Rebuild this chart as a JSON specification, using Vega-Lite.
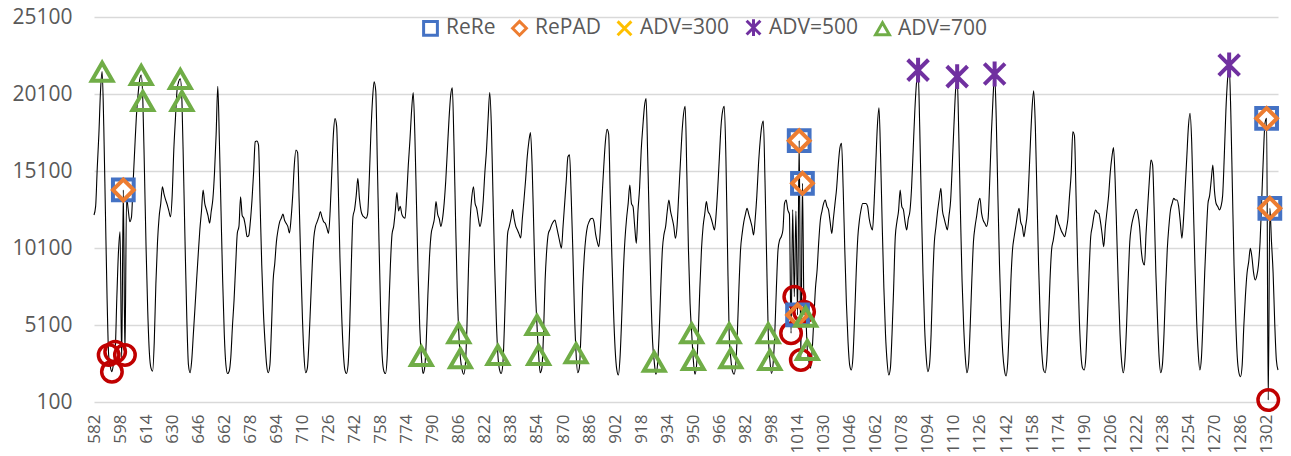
{
  "$schema": "https://vega.github.io/schema/vega-lite/v6.json",
  "autosize": "none",
  "width": 1184,
  "height": 385,
  "padding": {"left": 94, "top": 17, "right": 13, "bottom": 54},
  "background": "white",
  "config": {
    "view": {"stroke": null},
    "font": "Open Sans",
    "axis": {"labelFont": "Open Sans", "labelColor": "#595959", "labelOverlap": false},
    "axisX": {"labelOverlap": false}
  },
  "datasets": {
    "series": [
{"x":582,"y":12240},{"x":583,"y":12800},{"x":584,"y":15300},{"x":585,"y":17500},{"x":586,"y":20300},{"x":587,"y":21550},{"x":588,"y":18000},{"x":589,"y":12500},{"x":590,"y":7000},{"x":591,"y":3150},{"x":592,"y":2400},{"x":593,"y":2070},{"x":594,"y":2600},{"x":595,"y":3370},{"x":596,"y":6800},{"x":597,"y":9800},{"x":598,"y":11160},{"x":599,"y":2800},{"x":600,"y":13870},{"x":601,"y":3150},{"x":602,"y":13400},{"x":603,"y":12600},{"x":604,"y":11800},{"x":605,"y":12100},{"x":606,"y":14300},{"x":607,"y":16500},{"x":608,"y":18600},{"x":609,"y":20000},{"x":610,"y":21000},{"x":611,"y":21330},{"x":612,"y":19650},{"x":613,"y":15000},{"x":614,"y":10000},{"x":615,"y":6000},{"x":616,"y":3300},{"x":617,"y":2300},{"x":618,"y":2100},{"x":619,"y":4000},{"x":620,"y":7800},{"x":621,"y":10500},{"x":622,"y":12130},{"x":623,"y":13000},{"x":624,"y":14080},{"x":625,"y":13600},{"x":626,"y":13220},{"x":627,"y":12900},{"x":628,"y":12500},{"x":629,"y":12130},{"x":630,"y":13500},{"x":631,"y":16460},{"x":632,"y":18500},{"x":633,"y":20360},{"x":634,"y":20900},{"x":635,"y":21080},{"x":636,"y":19650},{"x":637,"y":15000},{"x":638,"y":10000},{"x":639,"y":5500},{"x":640,"y":2500},{"x":641,"y":2000},{"x":642,"y":2800},{"x":643,"y":4500},{"x":644,"y":6200},{"x":645,"y":8000},{"x":646,"y":9700},{"x":647,"y":11300},{"x":648,"y":12500},{"x":649,"y":13870},{"x":650,"y":13000},{"x":651,"y":12600},{"x":652,"y":12200},{"x":653,"y":11720},{"x":654,"y":12500},{"x":655,"y":13300},{"x":656,"y":15000},{"x":657,"y":17500},{"x":658,"y":20600},{"x":659,"y":17000},{"x":660,"y":12500},{"x":661,"y":8000},{"x":662,"y":4500},{"x":663,"y":2500},{"x":664,"y":1950},{"x":665,"y":2100},{"x":666,"y":3000},{"x":667,"y":5000},{"x":668,"y":6720},{"x":669,"y":9000},{"x":670,"y":11070},{"x":671,"y":11500},{"x":672,"y":13430},{"x":673,"y":12200},{"x":674,"y":12030},{"x":675,"y":11500},{"x":676,"y":10830},{"x":677,"y":10900},{"x":678,"y":11800},{"x":679,"y":13200},{"x":680,"y":15000},{"x":681,"y":17000},{"x":682,"y":17050},{"x":683,"y":16800},{"x":684,"y":13000},{"x":685,"y":9000},{"x":686,"y":6000},{"x":687,"y":4000},{"x":688,"y":2500},{"x":689,"y":2000},{"x":690,"y":2500},{"x":691,"y":5000},{"x":692,"y":8000},{"x":693,"y":9100},{"x":694,"y":10500},{"x":695,"y":11270},{"x":696,"y":11800},{"x":697,"y":12030},{"x":698,"y":12300},{"x":699,"y":11900},{"x":700,"y":11700},{"x":701,"y":11500},{"x":702,"y":11070},{"x":703,"y":12000},{"x":704,"y":13500},{"x":705,"y":15500},{"x":706,"y":16460},{"x":707,"y":16300},{"x":708,"y":13000},{"x":709,"y":9000},{"x":710,"y":5500},{"x":711,"y":3000},{"x":712,"y":2000},{"x":713,"y":2300},{"x":714,"y":4000},{"x":715,"y":6500},{"x":716,"y":9000},{"x":717,"y":10800},{"x":718,"y":11500},{"x":719,"y":11800},{"x":720,"y":12100},{"x":721,"y":12460},{"x":722,"y":12100},{"x":723,"y":11800},{"x":724,"y":11700},{"x":725,"y":11400},{"x":726,"y":11050},{"x":727,"y":12500},{"x":728,"y":15000},{"x":729,"y":17500},{"x":730,"y":18500},{"x":731,"y":18000},{"x":732,"y":14000},{"x":733,"y":9500},{"x":734,"y":6000},{"x":735,"y":3500},{"x":736,"y":2200},{"x":737,"y":1950},{"x":738,"y":2500},{"x":739,"y":5000},{"x":740,"y":9000},{"x":741,"y":12130},{"x":742,"y":12600},{"x":743,"y":13500},{"x":744,"y":14630},{"x":745,"y":13300},{"x":746,"y":12500},{"x":747,"y":12200},{"x":748,"y":12100},{"x":749,"y":12030},{"x":750,"y":12300},{"x":751,"y":14500},{"x":752,"y":17500},{"x":753,"y":19710},{"x":754,"y":20900},{"x":755,"y":20300},{"x":756,"y":15500},{"x":757,"y":10500},{"x":758,"y":6000},{"x":759,"y":3000},{"x":760,"y":2100},{"x":761,"y":1950},{"x":762,"y":3000},{"x":763,"y":6000},{"x":764,"y":9000},{"x":765,"y":11000},{"x":766,"y":11500},{"x":767,"y":12500},{"x":768,"y":13700},{"x":769,"y":12500},{"x":770,"y":12800},{"x":771,"y":12300},{"x":772,"y":12100},{"x":773,"y":12030},{"x":774,"y":13500},{"x":775,"y":15500},{"x":776,"y":17110},{"x":777,"y":19000},{"x":778,"y":20200},{"x":779,"y":17500},{"x":780,"y":13000},{"x":781,"y":8500},{"x":782,"y":5000},{"x":783,"y":3090},{"x":784,"y":1950},{"x":785,"y":2300},{"x":786,"y":4000},{"x":787,"y":7000},{"x":788,"y":9500},{"x":789,"y":11000},{"x":790,"y":11500},{"x":791,"y":12000},{"x":792,"y":13110},{"x":793,"y":12300},{"x":794,"y":12000},{"x":795,"y":11500},{"x":796,"y":12000},{"x":797,"y":13000},{"x":798,"y":14500},{"x":799,"y":16500},{"x":800,"y":18500},{"x":801,"y":20000},{"x":802,"y":20500},{"x":803,"y":17000},{"x":804,"y":12000},{"x":805,"y":7500},{"x":806,"y":4560},{"x":807,"y":2940},{"x":808,"y":2200},{"x":809,"y":1900},{"x":810,"y":2500},{"x":811,"y":5000},{"x":812,"y":9000},{"x":813,"y":12000},{"x":814,"y":13430},{"x":815,"y":14080},{"x":816,"y":13000},{"x":817,"y":12680},{"x":818,"y":12000},{"x":819,"y":11500},{"x":820,"y":12000},{"x":821,"y":13200},{"x":822,"y":15000},{"x":823,"y":16460},{"x":824,"y":18500},{"x":825,"y":20200},{"x":826,"y":18000},{"x":827,"y":13500},{"x":828,"y":9000},{"x":829,"y":5500},{"x":830,"y":3150},{"x":831,"y":2200},{"x":832,"y":1950},{"x":833,"y":2500},{"x":834,"y":5000},{"x":835,"y":8500},{"x":836,"y":11050},{"x":837,"y":11500},{"x":838,"y":12000},{"x":839,"y":12600},{"x":840,"y":12000},{"x":841,"y":11500},{"x":842,"y":11270},{"x":843,"y":11000},{"x":844,"y":10750},{"x":845,"y":12000},{"x":846,"y":13200},{"x":847,"y":14500},{"x":848,"y":16000},{"x":849,"y":17000},{"x":850,"y":17600},{"x":851,"y":15500},{"x":852,"y":11500},{"x":853,"y":7500},{"x":854,"y":5100},{"x":855,"y":3150},{"x":856,"y":2000},{"x":857,"y":2300},{"x":858,"y":4500},{"x":859,"y":8000},{"x":860,"y":10000},{"x":861,"y":11050},{"x":862,"y":11300},{"x":863,"y":11600},{"x":864,"y":11800},{"x":865,"y":11920},{"x":866,"y":11500},{"x":867,"y":11000},{"x":868,"y":10500},{"x":869,"y":10080},{"x":870,"y":11500},{"x":871,"y":13000},{"x":872,"y":14500},{"x":873,"y":16020},{"x":874,"y":16150},{"x":875,"y":13500},{"x":876,"y":10000},{"x":877,"y":6000},{"x":878,"y":3260},{"x":879,"y":2000},{"x":880,"y":2300},{"x":881,"y":4500},{"x":882,"y":7500},{"x":883,"y":9500},{"x":884,"y":10800},{"x":885,"y":11500},{"x":886,"y":11800},{"x":887,"y":12000},{"x":888,"y":12030},{"x":889,"y":11800},{"x":890,"y":11000},{"x":891,"y":10500},{"x":892,"y":10180},{"x":893,"y":11500},{"x":894,"y":13500},{"x":895,"y":15380},{"x":896,"y":17000},{"x":897,"y":17800},{"x":898,"y":17500},{"x":899,"y":13500},{"x":900,"y":9500},{"x":901,"y":6000},{"x":902,"y":3500},{"x":903,"y":2200},{"x":904,"y":1850},{"x":905,"y":3000},{"x":906,"y":5500},{"x":907,"y":8500},{"x":908,"y":10620},{"x":909,"y":12000},{"x":910,"y":13000},{"x":911,"y":14190},{"x":912,"y":13000},{"x":913,"y":12770},{"x":914,"y":11500},{"x":915,"y":10400},{"x":916,"y":12500},{"x":917,"y":14000},{"x":918,"y":16460},{"x":919,"y":18000},{"x":920,"y":19300},{"x":921,"y":19800},{"x":922,"y":16000},{"x":923,"y":11500},{"x":924,"y":7000},{"x":925,"y":4000},{"x":926,"y":2720},{"x":927,"y":1900},{"x":928,"y":2500},{"x":929,"y":4500},{"x":930,"y":7500},{"x":931,"y":10000},{"x":932,"y":11000},{"x":933,"y":11500},{"x":934,"y":12500},{"x":935,"y":13220},{"x":936,"y":12500},{"x":937,"y":12030},{"x":938,"y":11500},{"x":939,"y":10730},{"x":940,"y":11500},{"x":941,"y":13500},{"x":942,"y":15500},{"x":943,"y":17500},{"x":944,"y":18800},{"x":945,"y":19300},{"x":946,"y":15000},{"x":947,"y":10000},{"x":948,"y":6500},{"x":949,"y":4560},{"x":950,"y":2830},{"x":951,"y":1900},{"x":952,"y":2500},{"x":953,"y":4500},{"x":954,"y":7500},{"x":955,"y":10000},{"x":956,"y":11500},{"x":957,"y":12300},{"x":958,"y":13110},{"x":959,"y":12500},{"x":960,"y":12300},{"x":961,"y":12000},{"x":962,"y":11600},{"x":963,"y":11270},{"x":964,"y":12300},{"x":965,"y":14000},{"x":966,"y":16000},{"x":967,"y":18000},{"x":968,"y":19000},{"x":969,"y":19300},{"x":970,"y":16000},{"x":971,"y":10000},{"x":972,"y":4560},{"x":973,"y":2940},{"x":974,"y":2100},{"x":975,"y":1900},{"x":976,"y":2500},{"x":977,"y":4500},{"x":978,"y":7500},{"x":979,"y":10000},{"x":980,"y":11050},{"x":981,"y":11800},{"x":982,"y":12300},{"x":983,"y":12680},{"x":984,"y":12300},{"x":985,"y":11920},{"x":986,"y":11500},{"x":987,"y":10950},{"x":988,"y":12000},{"x":989,"y":13500},{"x":990,"y":15500},{"x":991,"y":17000},{"x":992,"y":18000},{"x":993,"y":18350},{"x":994,"y":14500},{"x":995,"y":9500},{"x":996,"y":4560},{"x":997,"y":2830},{"x":998,"y":1950},{"x":999,"y":2600},{"x":1000,"y":4500},{"x":1001,"y":7500},{"x":1002,"y":9970},{"x":1003,"y":10620},{"x":1004,"y":10830},{"x":1005,"y":11270},{"x":1006,"y":12990},{"x":1007,"y":13220},{"x":1008,"y":12570},{"x":1009,"y":12300},{"x":1010,"y":4560},{"x":1011,"y":12600},{"x":1012,"y":6940},{"x":1013,"y":12500},{"x":1014,"y":5750},{"x":1015,"y":17070},{"x":1016,"y":2830},{"x":1017,"y":14300},{"x":1018,"y":5960},{"x":1019,"y":5640},{"x":1020,"y":3470},{"x":1021,"y":2700},{"x":1022,"y":2300},{"x":1023,"y":3500},{"x":1024,"y":5500},{"x":1025,"y":7500},{"x":1026,"y":8670},{"x":1027,"y":10500},{"x":1028,"y":11920},{"x":1029,"y":12500},{"x":1030,"y":13000},{"x":1031,"y":13220},{"x":1032,"y":12800},{"x":1033,"y":12570},{"x":1034,"y":11800},{"x":1035,"y":11050},{"x":1036,"y":12000},{"x":1037,"y":13000},{"x":1038,"y":14000},{"x":1039,"y":15500},{"x":1040,"y":16600},{"x":1041,"y":16900},{"x":1042,"y":14000},{"x":1043,"y":10000},{"x":1044,"y":6500},{"x":1045,"y":4000},{"x":1046,"y":2500},{"x":1047,"y":2180},{"x":1048,"y":3000},{"x":1049,"y":5500},{"x":1050,"y":8500},{"x":1051,"y":10800},{"x":1052,"y":11920},{"x":1053,"y":12600},{"x":1054,"y":12990},{"x":1055,"y":12990},{"x":1056,"y":12990},{"x":1057,"y":12800},{"x":1058,"y":12000},{"x":1059,"y":11500},{"x":1060,"y":11270},{"x":1061,"y":13000},{"x":1062,"y":15500},{"x":1063,"y":18000},{"x":1064,"y":19200},{"x":1065,"y":16000},{"x":1066,"y":11500},{"x":1067,"y":7500},{"x":1068,"y":4500},{"x":1069,"y":2700},{"x":1070,"y":1850},{"x":1071,"y":2300},{"x":1072,"y":4500},{"x":1073,"y":7500},{"x":1074,"y":10830},{"x":1075,"y":11800},{"x":1076,"y":12500},{"x":1077,"y":13870},{"x":1078,"y":12800},{"x":1079,"y":12570},{"x":1080,"y":11800},{"x":1081,"y":11270},{"x":1082,"y":12000},{"x":1083,"y":12500},{"x":1084,"y":14000},{"x":1085,"y":16500},{"x":1086,"y":19000},{"x":1087,"y":20800},{"x":1088,"y":21650},{"x":1089,"y":18000},{"x":1090,"y":13000},{"x":1091,"y":8500},{"x":1092,"y":5000},{"x":1093,"y":3000},{"x":1094,"y":2070},{"x":1095,"y":2500},{"x":1096,"y":4500},{"x":1097,"y":8000},{"x":1098,"y":10500},{"x":1099,"y":11500},{"x":1100,"y":12500},{"x":1101,"y":13300},{"x":1102,"y":13980},{"x":1103,"y":12500},{"x":1104,"y":12030},{"x":1105,"y":11600},{"x":1106,"y":11270},{"x":1107,"y":12200},{"x":1108,"y":13200},{"x":1109,"y":15500},{"x":1110,"y":18000},{"x":1111,"y":20300},{"x":1112,"y":21230},{"x":1113,"y":17500},{"x":1114,"y":12500},{"x":1115,"y":8000},{"x":1116,"y":5000},{"x":1117,"y":3000},{"x":1118,"y":2000},{"x":1119,"y":2600},{"x":1120,"y":5000},{"x":1121,"y":8000},{"x":1122,"y":10500},{"x":1123,"y":11500},{"x":1124,"y":12200},{"x":1125,"y":13000},{"x":1126,"y":13330},{"x":1127,"y":12350},{"x":1128,"y":11900},{"x":1129,"y":11700},{"x":1130,"y":11500},{"x":1131,"y":12000},{"x":1132,"y":14500},{"x":1133,"y":17500},{"x":1134,"y":19800},{"x":1135,"y":21400},{"x":1136,"y":18500},{"x":1137,"y":13500},{"x":1138,"y":9000},{"x":1139,"y":5500},{"x":1140,"y":3300},{"x":1141,"y":2200},{"x":1142,"y":1790},{"x":1143,"y":2600},{"x":1144,"y":5000},{"x":1145,"y":8000},{"x":1146,"y":10000},{"x":1147,"y":10830},{"x":1148,"y":11500},{"x":1149,"y":12200},{"x":1150,"y":12680},{"x":1151,"y":11800},{"x":1152,"y":11500},{"x":1153,"y":10830},{"x":1154,"y":11500},{"x":1155,"y":12350},{"x":1156,"y":14500},{"x":1157,"y":17000},{"x":1158,"y":19200},{"x":1159,"y":20300},{"x":1160,"y":18000},{"x":1161,"y":13500},{"x":1162,"y":9000},{"x":1163,"y":5500},{"x":1164,"y":3300},{"x":1165,"y":2200},{"x":1166,"y":2000},{"x":1167,"y":2800},{"x":1168,"y":5000},{"x":1169,"y":8000},{"x":1170,"y":10000},{"x":1171,"y":10600},{"x":1172,"y":11300},{"x":1173,"y":12240},{"x":1174,"y":11800},{"x":1175,"y":11500},{"x":1176,"y":11200},{"x":1177,"y":11000},{"x":1178,"y":10830},{"x":1179,"y":11300},{"x":1180,"y":12000},{"x":1181,"y":13500},{"x":1182,"y":14960},{"x":1183,"y":17650},{"x":1184,"y":17400},{"x":1185,"y":13500},{"x":1186,"y":9000},{"x":1187,"y":5500},{"x":1188,"y":3200},{"x":1189,"y":2300},{"x":1190,"y":2180},{"x":1191,"y":3000},{"x":1192,"y":5500},{"x":1193,"y":8500},{"x":1194,"y":10830},{"x":1195,"y":11500},{"x":1196,"y":12200},{"x":1197,"y":12570},{"x":1198,"y":12400},{"x":1199,"y":12350},{"x":1200,"y":11800},{"x":1201,"y":11000},{"x":1202,"y":10180},{"x":1203,"y":11500},{"x":1204,"y":12500},{"x":1205,"y":13500},{"x":1206,"y":15000},{"x":1207,"y":16000},{"x":1208,"y":16620},{"x":1209,"y":14500},{"x":1210,"y":11000},{"x":1211,"y":7500},{"x":1212,"y":4500},{"x":1213,"y":2700},{"x":1214,"y":2000},{"x":1215,"y":2800},{"x":1216,"y":5000},{"x":1217,"y":8000},{"x":1218,"y":10500},{"x":1219,"y":11500},{"x":1220,"y":12030},{"x":1221,"y":12400},{"x":1222,"y":12620},{"x":1223,"y":12300},{"x":1224,"y":11500},{"x":1225,"y":10000},{"x":1226,"y":9200},{"x":1227,"y":9000},{"x":1228,"y":11070},{"x":1229,"y":12800},{"x":1230,"y":14500},{"x":1231,"y":15810},{"x":1232,"y":15500},{"x":1233,"y":12500},{"x":1234,"y":8500},{"x":1235,"y":5500},{"x":1236,"y":3000},{"x":1237,"y":2000},{"x":1238,"y":2500},{"x":1239,"y":4500},{"x":1240,"y":7500},{"x":1241,"y":10000},{"x":1242,"y":11500},{"x":1243,"y":12570},{"x":1244,"y":13000},{"x":1245,"y":13330},{"x":1246,"y":13220},{"x":1247,"y":13220},{"x":1248,"y":12800},{"x":1249,"y":11800},{"x":1250,"y":10730},{"x":1251,"y":12000},{"x":1252,"y":14000},{"x":1253,"y":16000},{"x":1254,"y":18000},{"x":1255,"y":18850},{"x":1256,"y":17000},{"x":1257,"y":13000},{"x":1258,"y":9000},{"x":1259,"y":5500},{"x":1260,"y":3300},{"x":1261,"y":2180},{"x":1262,"y":3000},{"x":1263,"y":5500},{"x":1264,"y":8500},{"x":1265,"y":11000},{"x":1266,"y":12990},{"x":1267,"y":13500},{"x":1268,"y":14500},{"x":1269,"y":15490},{"x":1270,"y":13800},{"x":1271,"y":12990},{"x":1272,"y":12800},{"x":1273,"y":12570},{"x":1274,"y":12800},{"x":1275,"y":13500},{"x":1276,"y":16000},{"x":1277,"y":19000},{"x":1278,"y":21000},{"x":1279,"y":21980},{"x":1280,"y":19000},{"x":1281,"y":14000},{"x":1282,"y":9000},{"x":1283,"y":5500},{"x":1284,"y":3000},{"x":1285,"y":2000},{"x":1286,"y":1740},{"x":1287,"y":2500},{"x":1288,"y":5000},{"x":1289,"y":7000},{"x":1290,"y":8480},{"x":1291,"y":9200},{"x":1292,"y":10080},{"x":1293,"y":9500},{"x":1294,"y":8500},{"x":1295,"y":8020},{"x":1296,"y":8300},{"x":1297,"y":9000},{"x":1298,"y":10500},{"x":1299,"y":13220},{"x":1300,"y":16000},{"x":1301,"y":18200},{"x":1302,"y":18520},{"x":1303,"y":230},{"x":1304,"y":12680},{"x":1305,"y":10500},{"x":1306,"y":8480},{"x":1307,"y":5200},{"x":1308,"y":2830},{"x":1309,"y":2180}
    ],
    "truth": [
{"x":591,"y":3150},{"x":593,"y":2070},{"x":595,"y":3370},{"x":601,"y":3150},{"x":1010,"y":4560},{"x":1012,"y":6940},{"x":1016,"y":2830},{"x":1018,"y":5960},{"x":1303,"y":230}
    ],
    "det": [
{"x":600,"y":13870,"s":"ReRe"},{"x":1014,"y":5750,"s":"ReRe"},{"x":1015,"y":17070,"s":"ReRe"},{"x":1017,"y":14300,"s":"ReRe"},{"x":1302,"y":18520,"s":"ReRe"},{"x":1304,"y":12680,"s":"ReRe"},
{"x":600,"y":13870,"s":"RePAD"},{"x":1014,"y":5750,"s":"RePAD"},{"x":1015,"y":17070,"s":"RePAD"},{"x":1017,"y":14300,"s":"RePAD"},{"x":1302,"y":18520,"s":"RePAD"},{"x":1304,"y":12680,"s":"RePAD"},
{"x":1088,"y":21650,"s":"ADV=500"},{"x":1112,"y":21230,"s":"ADV=500"},{"x":1135,"y":21400,"s":"ADV=500"},{"x":1279,"y":21980,"s":"ADV=500"},
{"x":587,"y":21550,"s":"ADV=700"},{"x":611,"y":21330,"s":"ADV=700"},{"x":612,"y":19650,"s":"ADV=700"},{"x":635,"y":21080,"s":"ADV=700"},{"x":636,"y":19650,"s":"ADV=700"},{"x":783,"y":3090,"s":"ADV=700"},{"x":806,"y":4560,"s":"ADV=700"},{"x":807,"y":2940,"s":"ADV=700"},{"x":830,"y":3150,"s":"ADV=700"},{"x":854,"y":5100,"s":"ADV=700"},{"x":855,"y":3150,"s":"ADV=700"},{"x":878,"y":3260,"s":"ADV=700"},{"x":926,"y":2720,"s":"ADV=700"},{"x":949,"y":4560,"s":"ADV=700"},{"x":950,"y":2830,"s":"ADV=700"},{"x":972,"y":4560,"s":"ADV=700"},{"x":973,"y":2940,"s":"ADV=700"},{"x":996,"y":4560,"s":"ADV=700"},{"x":997,"y":2830,"s":"ADV=700"},{"x":1019,"y":5640,"s":"ADV=700"},{"x":1020,"y":3470,"s":"ADV=700"}
    ]
  },
  "encoding": {
    "x": {
      "field": "x", "type": "quantitative",
      "scale": {"domain": [582, 1309], "nice": false, "zero": false},
      "axis": {
        "title": null, "grid": false, "domain": false, "ticks": false,
        "values": [582,598,614,630,646,662,678,694,710,726,742,758,774,790,806,822,838,854,870,886,902,918,934,950,966,982,998,1014,1030,1046,1062,1078,1094,1110,1126,1142,1158,1174,1190,1206,1222,1238,1254,1270,1286,1302],
        "format": "d", "labelAngle": -90, "labelAlign": "right", "labelBaseline": "middle",
        "labelFontSize": 17, "labelPadding": 12, "labelOverlap": false, "labelFlush": false, "labelBound": false
      }
    },
    "y": {
      "field": "y", "type": "quantitative",
      "scale": {"domain": [100, 25100], "nice": false, "zero": false},
      "axis": {
        "title": null, "domain": false, "ticks": false,
        "values": [100, 5100, 10100, 15100, 20100, 25100],
        "format": "d", "labelFontSize": 21, "labelPadding": 22,
        "grid": true, "gridColor": "#D9D9D9", "gridWidth": 1.3
      }
    }
  },
  "layer": [
    {
      "data": {"name": "series"},
      "mark": {"type": "line", "color": "#000000", "strokeWidth": 1.1, "interpolate": "monotone"}
    },
    {
      "data": {"name": "truth"},
      "mark": {"type": "point", "shape": "circle", "filled": false, "stroke": "#C00000", "strokeWidth": 3.5, "size": 420, "opacity": 1}
    },
    {
      "data": {"name": "det"},
      "mark": {"type": "point", "filled": false, "size": 430, "opacity": 1, "strokeWidth": 4},
      "encoding": {
        "color": {
          "field": "s", "type": "nominal",
          "scale": {"domain": ["ReRe", "RePAD", "ADV=300", "ADV=500", "ADV=700"], "range": ["#4472C4", "#ED7D31", "#FFC000", "#7030A0", "#70AD47"]},
          "legend": {
            "title": null, "orient": "none", "legendX": 326, "legendY": 0, "direction": "horizontal", "columns": 5,
            "labelFont": "Open Sans", "labelFontSize": 21, "labelColor": "#595959",
            "symbolSize": 190, "symbolStrokeWidth": 3, "columnPadding": 10, "labelOffset": 5, "padding": 0
          }
        },
        "shape": {
          "field": "s", "type": "nominal",
          "scale": {"domain": ["ReRe", "RePAD", "ADV=300", "ADV=500", "ADV=700"], "range": ["square", "diamond", "M-1,-1L1,1M-1,1L1,-1", "M-1,-1L1,1M-1,1L1,-1M0,-1.2L0,1.2", "triangle-up"]},
          "legend": {
            "title": null, "orient": "none", "legendX": 326, "legendY": 0, "direction": "horizontal", "columns": 5,
            "labelFont": "Open Sans", "labelFontSize": 21, "labelColor": "#595959",
            "symbolSize": 190, "symbolStrokeWidth": 3, "columnPadding": 10, "labelOffset": 5, "padding": 0
          }
        }
      }
    }
  ]
}
